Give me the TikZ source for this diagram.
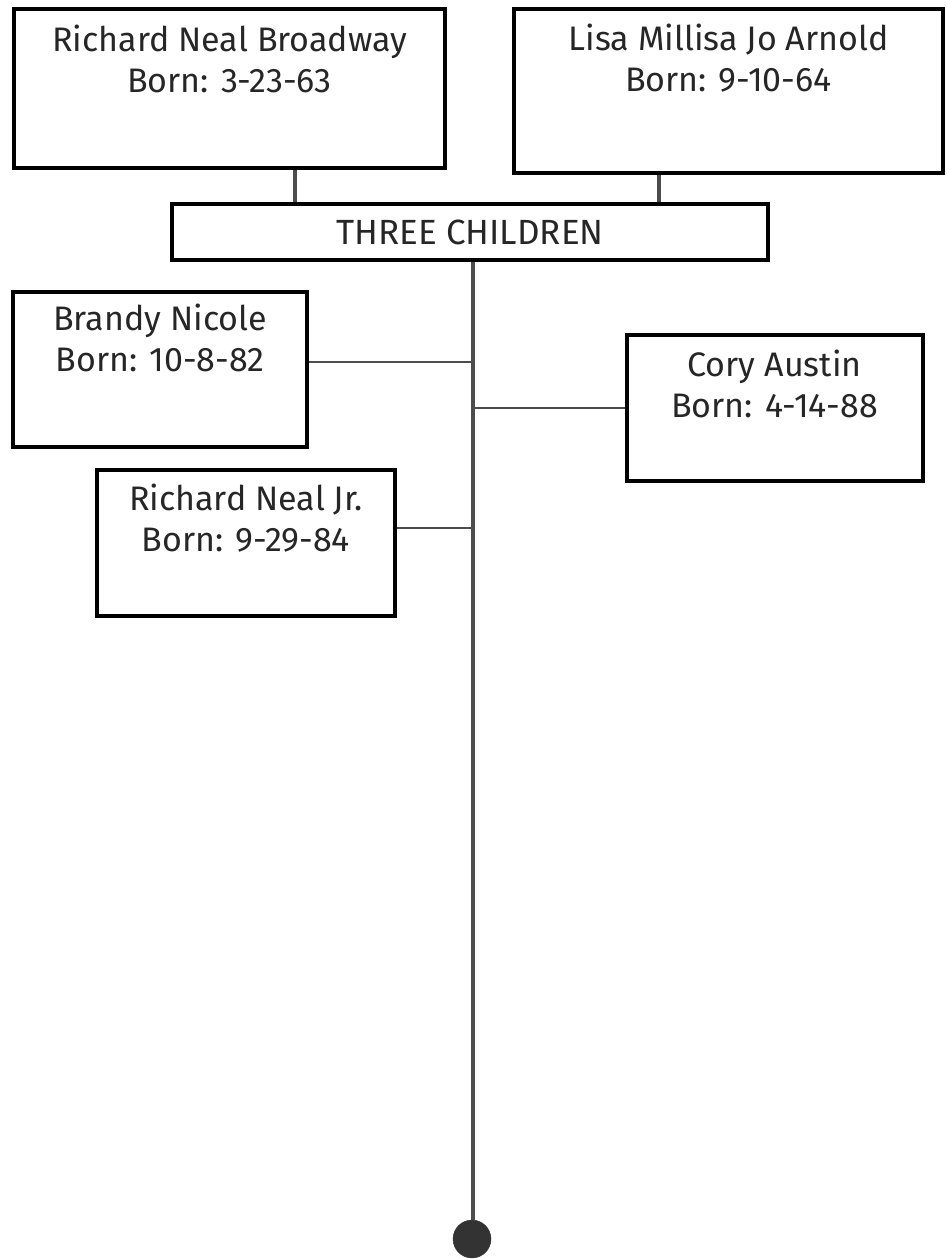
\documentclass[tikz,border=0pt]{standalone}
\usepackage{fontspec}
\setmainfont{Fira Sans}
\begin{document}
\begin{tikzpicture}[x=1pt,y=-1pt,
  pbox/.style={draw=black, line width=4pt, fill=white, rectangle, inner sep=0pt},
  ptext/.style={text=black!85, font=\fontsize{34}{41}\selectfont, align=center, inner sep=0pt, anchor=north},
  stem/.style={draw=black!70, line width=4pt},
  twig/.style={draw=black!70, line width=2pt}]
  % page
  \path[fill=white] (0,0) rectangle (947,1260);
  \useasboundingbox (0,0) rectangle (947,1260);

  % parents
  \node[pbox, minimum width=431pt, minimum height=159pt] (rnb) at (229.5,89) {};
  \node[ptext] (rnbt) at ([yshift=-17pt]rnb.north) {Richard Neal Broadway\\Born: 3-23-63};
  \node[pbox, minimum width=429pt, minimum height=164pt] (lisa) at (728.5,91) {};
  \node[ptext] (lisat) at ([yshift=-17pt]lisa.north) {Lisa Millisa Jo Arnold\\Born: 9-10-64};

  % family bar
  \node[pbox, minimum width=596pt, minimum height=56pt, font=\fontsize{35}{38}\selectfont, text=black!85] (tc) at (470,232) {THREE CHILDREN};

  % children
  \node[pbox, minimum width=294pt, minimum height=155pt] (brandy) at (160,369.5) {};
  \node[ptext] (brandyt) at ([yshift=-14pt]brandy.north) {Brandy Nicole\\Born: 10-8-82};
  \node[pbox, minimum width=296pt, minimum height=146pt] (cory) at (774.5,407.5) {};
  \node[ptext] (coryt) at ([yshift=-17pt]cory.north) {Cory Austin\\Born: 4-14-88};
  \node[pbox, minimum width=298pt, minimum height=146pt] (jr) at (246,543) {};
  \node[ptext] (jrt) at ([yshift=-16pt]jr.north) {Richard Neal Jr.\\Born: 9-29-84};

  % end of the line
  \node[circle, fill=black!80, draw=black!80, minimum size=38pt, inner sep=0pt] (dot) at (472,1239) {};

  % junctions on the trunk
  \coordinate (jb) at (473,362);
  \coordinate (jc) at (473,408);
  \coordinate (jj) at (473,528);

  % parent stubs
  \draw[stem] (rnb.south -| 295,0) -- (tc.north -| 295,0);
  \draw[stem] (lisa.south -| 659,0) -- (tc.north -| 659,0);

  % trunk
  \draw[stem] (tc.south -| jb) -- (dot.north -| jb);

  % branches
  \draw[twig] (jb -| brandy.east) -- (jb);
  \draw[twig] (jc) -- (jc -| cory.west);
  \draw[twig] (jj -| jr.east) -- (jj);
\end{tikzpicture}
\end{document}
